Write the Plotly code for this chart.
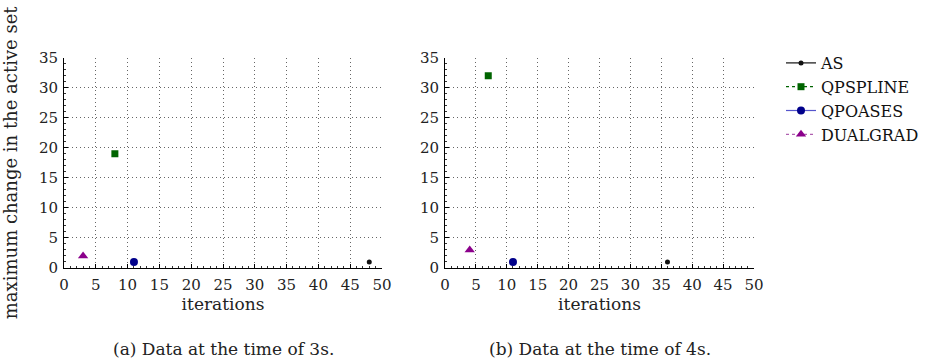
import plotly.graph_objects as go

series = ["AS", "QPSPLINE", "QPOASES", "DUALGRAD"]
# panel (a): data at 3s
iters_a = [48, 8, 11, 3]
change_a = [1, 19, 1, 2]
# panel (b): data at 4s
iters_b = [36, 7, 11, 4]
change_b = [1, 32, 1, 3]

x_ticks = [0, 5, 10, 15, 20, 25, 30, 35, 40, 45, 50]
y_ticks = [0, 5, 10, 15, 20, 25, 30, 35]
captions = ["(a) Data at the time of 3s.", "(b) Data at the time of 4s."]

colors = ["#111111", "#006400", "#00008B", "#8B008B"]
symbols = ["circle", "square", "circle", "triangle-up"]
msizes = [5, 7, 8, 9]
dashes = ["solid", "dot", "solid", "dot"]
lcolors = ["#111111", "#006400", "#5555cc", "#b060b0"]

SERIF = "DejaVu Serif"
W, H = 938, 362

fig = go.Figure()
for panel, (xs, ys) in enumerate([(iters_a, change_a), (iters_b, change_b)]):
    for i, name in enumerate(series):
        fig.add_trace(go.Scatter(
            x=[xs[i]], y=[ys[i]], name=name,
            mode="lines+markers",
            marker=dict(symbol=symbols[i], size=msizes[i], color=colors[i]),
            line=dict(color=lcolors[i], dash=dashes[i], width=1.2),
            xaxis="x" if panel == 0 else "x2",
            yaxis="y" if panel == 0 else "y2",
            showlegend=(panel == 1),
        ))

ydom = [1 - 268 / H, 1 - 57.7 / H]
GRID = dict(showgrid=True, gridcolor="#666666", griddash="1px,3px", gridwidth=1)

def xaxis(dom, anchor):
    return dict(
        domain=dom, anchor=anchor, range=[0, 50], tickvals=x_ticks,
        showline=True, linecolor="black", linewidth=1, automargin=False,
        zeroline=False, ticks="inside", ticklen=4, tickcolor="black",
        minor=dict(dtick=1, ticks="inside", ticklen=2, tickcolor="#333", showgrid=False),
        tickfont=dict(family=SERIF, size=15, color="#222"),
        title=dict(text="iterations", font=dict(family=SERIF, size=17, color="#222"), standoff=4),
        ticklabelstandoff=3, **GRID,
    )

def yaxis(anchor, title):
    d = dict(
        domain=ydom, anchor=anchor, range=[0, 35], tickvals=y_ticks,
        showline=True, linecolor="black", linewidth=1, automargin=False,
        zeroline=False, ticks="inside", ticklen=4, tickcolor="black",
        minor=dict(dtick=1, ticks="inside", ticklen=2, tickcolor="#333", showgrid=False),
        tickfont=dict(family=SERIF, size=15, color="#222"),
        ticklabelstandoff=2, **GRID,
    )
    if title:
        d["title"] = dict(text=title, font=dict(family=SERIF, size=18, color="#222"), standoff=20)
    return d

fig.update_layout(
    width=W, height=H,
    margin=dict(l=0, r=0, t=0, b=0, autoexpand=False),
    paper_bgcolor="white", plot_bgcolor="white",
    xaxis=xaxis([64 / W, 382 / W], "y"),
    yaxis=yaxis("x", "maximum change in the active set"),
    xaxis2=xaxis([445 / W, 754 / W], "y2"),
    yaxis2=yaxis("x2", None),
    legend=dict(
        x=781 / W, y=1 - 46 / H, xanchor="left", yanchor="top",
        font=dict(family=SERIF, size=16, color="#111"),
        bgcolor="rgba(0,0,0,0)", tracegroupgap=0, itemwidth=30,
    ),
    showlegend=True,
)

for k, cap in enumerate(captions):
    cx = (64 + 382) / 2 / W if k == 0 else (445 + 754) / 2 / W
    fig.add_annotation(
        text=cap, x=cx, y=1 - 349 / H, xref="paper", yref="paper",
        xanchor="center", yanchor="middle", showarrow=False,
        font=dict(family=SERIF, size=17, color="#222"),
    )

fig.write_html("out.html")
